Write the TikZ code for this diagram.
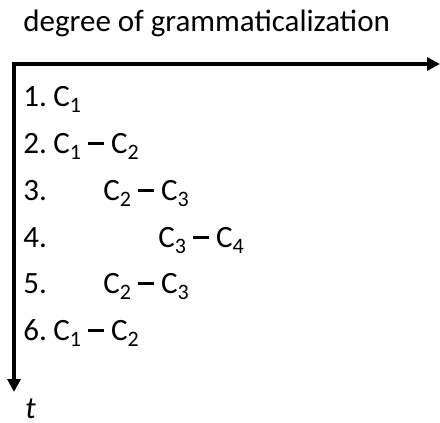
\documentclass[tikz,border=0pt]{standalone}
\usepackage{fontspec}
\setmainfont{Carlito}
\usetikzlibrary{arrows.meta}

\newcommand{\cc}[1]{C\raisebox{-0.2em}{\fontsize{11}{12}\selectfont #1}}
\newcommand{\mn}{\rule[0.26em]{0.52em}{0.08em}}

\begin{document}
\begin{tikzpicture}[x=0.5pt, y=-0.5pt, >={Triangle[length=6.5pt,width=6.5pt]},
	   txt/.style={anchor=base west, inner sep=0pt, font=\fontsize{15.5}{18}\selectfont},
	   axis/.style={line width=1.6pt, ->}]
	  \useasboundingbox (0,0) rectangle (440,423);
	  \node[txt] (title) at (23,32) {degree of grammaticalization};
	  \coordinate (o) at (14,64);
	  \coordinate (xend) at (440,64);
	  \coordinate (yend) at (14,392);
	  \draw[axis] ([xshift=-0.8pt]o) -- (xend);
	  \draw[axis] (o) -- (yend);
	  % stages
	  \node[txt] (n1) at (23,106) {1.};
	  \node[txt] (s1) at (53,106) {\cc1};
	  \node[txt] (n2) at (23,153) {2.};
	  \node[txt] (s2) at (53,153) {\cc1 \mn{} \cc2};
	  \node[txt] (n3) at (23,200) {3.};
	  \node[txt] (s3) at (103,200) {\cc2 \mn{} \cc3};
	  \node[txt] (n4) at (23,247) {4.};
	  \node[txt] (s4) at (158,247) {\cc3 \mn{} \cc4};
	  \node[txt] (n5) at (23,293) {5.};
	  \node[txt] (s5) at (103,293) {\cc2 \mn{} \cc3};
	  \node[txt] (n6) at (23,340) {6.};
	  \node[txt] (s6) at (53,340) {\cc1 \mn{} \cc2};
	  \node[txt] (t) at (25,418) {\textit{t}};
	\end{tikzpicture}
\end{document}
